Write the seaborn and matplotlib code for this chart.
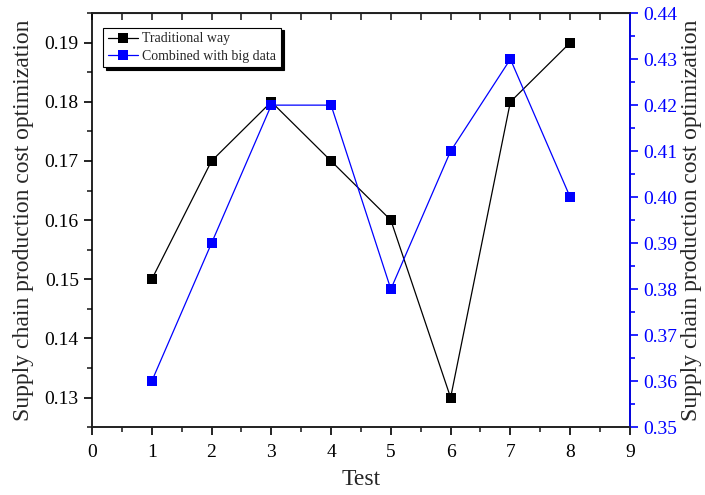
import numpy as np
import pandas as pd
import seaborn as sns
import matplotlib.pyplot as plt
from matplotlib.ticker import MultipleLocator, FormatStrFormatter
from matplotlib.lines import Line2D

# data
tests = [1, 2, 3, 4, 5, 6, 7, 8]
traditional = [0.15, 0.17, 0.18, 0.17, 0.16, 0.13, 0.18, 0.19]
big_data = [0.36, 0.39, 0.42, 0.42, 0.38, 0.41, 0.43, 0.40]

sns.set_style("ticks")
plt.rcParams['font.family'] = ['Liberation Serif', 'DejaVu Serif']

df = pd.DataFrame({'Test': tests, 'Traditional way': traditional, 'Combined with big data': big_data})

fig = plt.figure(figsize=(7.05, 4.95), dpi=100)
ax = fig.add_axes([0.1305, 0.137, 0.763, 0.8365])
ax2 = ax.twinx()

sns.lineplot(data=df, x='Test', y='Traditional way', ax=ax, color='black', lw=0.9,
             marker='s', markersize=6.5, markeredgewidth=0, markerfacecolor='black')
sns.lineplot(data=df, x='Test', y='Combined with big data', ax=ax2, color='#0000ff', lw=0.9,
             marker='s', markersize=6.5, markeredgewidth=0, markerfacecolor='#0000ff')

ax.set_xlim(0, 9)
ax.set_ylim(0.125, 0.195)
ax2.set_ylim(0.35, 0.44)

ax.xaxis.set_major_locator(MultipleLocator(1))
ax.xaxis.set_minor_locator(MultipleLocator(0.5))
ax.yaxis.set_major_locator(MultipleLocator(0.01))
ax.yaxis.set_minor_locator(MultipleLocator(0.005))
ax.yaxis.set_major_formatter(FormatStrFormatter('%.2f'))
ax2.yaxis.set_major_locator(MultipleLocator(0.01))
ax2.yaxis.set_minor_locator(MultipleLocator(0.005))
ax2.yaxis.set_major_formatter(FormatStrFormatter('%.2f'))

ax.tick_params(axis='both', which='major', direction='out', length=6, width=1.2,
               labelsize=14, colors='black')
ax.tick_params(axis='x', which='major', pad=6)
ax.tick_params(axis='both', which='minor', direction='out', length=3.5, width=1.2)
ax.tick_params(axis='x', which='both', top=False)
ax2.tick_params(axis='y', which='major', direction='out', length=6, width=1.2,
                labelsize=14, colors='#0000ff')
ax2.tick_params(axis='y', which='minor', direction='out', length=3.5, width=1.2, colors='#0000ff')

# inward ticks along the top edge
top = ax.secondary_xaxis('top')
top.xaxis.set_major_locator(MultipleLocator(0.5))
top.tick_params(direction='in', length=5, width=1.2, labeltop=False)

for s in ax.spines.values():
    s.set_linewidth(1.2)
    s.set_color('black')
for s in ax2.spines.values():
    s.set_linewidth(1.2)
ax2.spines['right'].set_color('#0000ff')
ax2.spines['left'].set_visible(False)

ax.set_xlabel('Test', fontsize=17, labelpad=6)
ax.set_ylabel('Supply chain production cost optimization', fontsize=17, labelpad=8)
ax2.set_ylabel('Supply chain production cost optimization', fontsize=17, labelpad=3)

handles = [Line2D([], [], color='black', lw=0.9, marker='s', markersize=6.5, markeredgewidth=0),
           Line2D([], [], color='#0000ff', lw=0.9, marker='s', markersize=6.5, markeredgewidth=0)]
leg = ax.legend(handles, ['Traditional way', 'Combined with big data'], loc='upper left',
                bbox_to_anchor=(0.02, 0.965), fontsize=10, frameon=True, fancybox=False,
                shadow={'color': 'black', 'alpha': 1}, handlelength=2.2, handletextpad=0.3,
                borderpad=0.35, labelspacing=0.3, borderaxespad=0)
leg.get_frame().set_edgecolor('black')
leg.get_frame().set_linewidth(0.8)

fig.savefig('out.png', dpi=100)
